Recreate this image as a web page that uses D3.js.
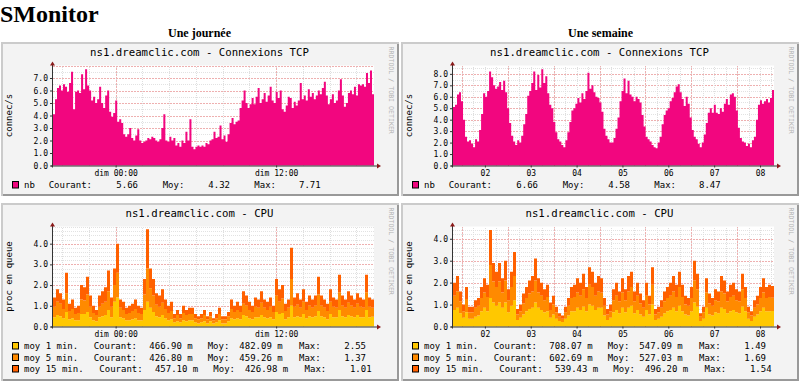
<!DOCTYPE html>
<html><head><meta charset="utf-8">
<script src="https://cdn.jsdelivr.net/npm/d3@7"></script>
<style>
body{margin:0;background:#fff;}
svg{display:block;}
</style></head><body>
<svg id="c" width="800" height="382"></svg>
<script>
// ---------------- DATA ----------------
const tcpDay = [
4.1,5.3,6.2,6.4,6.0,6.5,6.3,5.9,6.6,7.5,
4.5,5.9,6.0,5.8,7.3,6.1,7.7,6.4,6.0,5.2,
5.5,5.0,5.3,6.3,5.0,4.6,5.6,6.0,4.3,3.9,
4.2,5.2,3.5,3.7,3.4,2.5,2.3,2.5,3.0,2.2,
2.0,2.4,2.9,2.0,1.8,1.9,2.0,2.2,2.1,2.3,
2.2,2.0,1.9,2.1,3.0,4.1,2.0,1.9,2.3,2.0,
2.2,1.6,1.8,1.5,2.0,1.8,2.7,2.0,3.7,1.5,
1.3,1.5,1.6,1.5,1.6,1.5,1.8,1.7,2.0,2.1,
2.7,2.2,2.3,3.2,2.1,2.4,1.9,2.5,3.4,3.8,
3.3,3.5,3.6,4.6,5.2,6.0,5.0,4.6,4.9,5.4,
4.9,5.5,6.2,5.0,5.3,5.8,5.1,5.6,6.3,5.2,
5.0,5.9,5.4,6.0,4.5,4.3,4.8,5.5,5.4,4.6,
5.1,4.8,5.2,6.6,5.3,5.6,5.2,6.1,5.5,5.8,
5.3,5.6,6.0,5.7,6.2,6.7,5.6,4.9,5.3,5.7,
5.0,5.2,6.0,6.9,5.6,4.7,5.0,5.8,6.0,5.7,
6.3,5.6,6.5,6.4,6.5,6.3,7.4,6.6,7.6,5.7];

const tcpWeek = [
5.1,5.3,6.2,6.4,5.6,4.0,2.5,2.1,2.2,1.9,
1.6,2.3,2.1,3.1,4.5,6.3,6.0,6.5,8.2,7.7,
7.0,6.7,6.9,7.3,6.6,7.4,6.4,5.0,3.7,2.6,
2.1,1.8,2.2,2.0,2.6,3.6,4.5,6.1,6.5,7.2,
8.2,6.6,7.9,6.8,8.4,7.2,7.8,6.3,5.3,5.0,
3.8,2.9,2.3,2.1,1.8,1.6,2.2,2.9,3.8,4.8,
5.0,5.4,5.9,5.5,6.3,5.8,6.5,8.1,6.7,7.0,
6.4,6.0,5.9,5.5,4.7,3.2,2.6,2.3,2.0,2.0,
2.4,3.2,4.2,5.6,6.5,7.6,6.3,7.4,6.2,6.0,
5.6,6.0,5.8,5.5,4.4,3.4,2.5,2.3,2.1,1.8,
1.6,1.5,2.0,2.5,3.6,4.4,4.8,5.0,5.6,5.9,
6.4,6.9,7.1,6.4,5.8,5.2,6.0,5.4,4.2,3.1,
2.5,2.3,1.9,1.6,2.0,2.7,3.7,4.6,5.0,4.6,
5.3,4.6,4.5,5.0,4.7,5.4,5.8,5.3,6.2,6.3,
6.0,4.8,3.3,2.4,2.1,2.0,1.7,1.9,1.6,2.2,
2.5,4.0,5.3,5.7,5.4,5.6,5.8,5.5,5.9,6.6];

const cpuDay1 = [
.45,.55,.5,.4,.7,.35,.4,.3,.3,.6,
.6,.7,.45,.3,.25,.45,.5,.55,.8,.45,
1.2,1.4,.45,.4,.3,.3,.35,.4,.3,.3,
.8,1.2,.9,.7,.5,.45,.55,.4,.3,.35,
.2,.25,.2,.3,.25,.3,.3,.2,.15,.2,
.25,.15,.25,.15,.2,.3,.15,.15,.25,.4,
.35,.4,.35,.55,.5,.4,.35,.45,.45,.55,
.45,.4,.45,.35,.7,.6,.65,.35,.45,1.0,
.45,.5,.45,.6,.4,.5,.45,.5,.75,.5,
.45,.35,.6,.45,.45,.8,.5,.45,.55,.5,
.45,.55,.45,.45,.8,.45,.47];
const cpuDay5 = [
.5,.65,.6,.45,.9,.4,.45,.3,.35,.7,
.65,.85,.5,.35,.3,.5,.6,.65,.9,.5,
.8,1.2,.45,.4,.3,.35,.4,.45,.35,.3,
.75,1.6,.95,.8,.55,.5,.6,.45,.35,.4,
.2,.3,.2,.35,.3,.3,.3,.2,.2,.2,
.3,.2,.25,.15,.2,.3,.2,.2,.25,.45,
.35,.4,.35,.55,.5,.4,.35,.5,.45,.6,
.45,.4,.5,.35,.8,.6,.7,.4,.45,1.3,
.5,.55,.45,.6,.4,.5,.45,.5,.8,.5,
.45,.4,.6,.5,.45,.85,.5,.45,.6,.5,
.45,.55,.5,.45,.85,.5,.43];
const cpuDay15 = [
.45,.6,.5,.45,1.0,.35,.45,.3,.35,.7,
.65,.85,.55,.35,.25,.55,.6,.7,1.0,.45,
.8,1.4,.4,.4,.3,.35,.35,.45,.35,.3,
.75,1.9,.95,.8,.55,.55,.65,.45,.35,.45,
.2,.25,.2,.35,.25,.3,.3,.2,.15,.2,
.25,.15,.2,.1,.2,.3,.15,.15,.2,.45,
.3,.4,.3,.6,.5,.4,.3,.45,.4,.55,
.4,.4,.45,.3,.8,.6,.65,.35,.4,1.5,
.45,.55,.4,.6,.4,.5,.4,.5,.85,.5,
.4,.35,.6,.45,.4,.85,.5,.4,.55,.5,
.4,.5,.45,.4,.85,.45,.4];

const cpuWeek1 = [
.75,.85,.6,.4,.65,.35,.35,.45,.5,.7,
.85,.7,1.3,1.1,.95,1.1,.85,1.1,.65,.95,
1.2,.3,.4,.55,.7,.8,.85,1.1,.85,.75,
.65,.7,.4,.55,.35,.25,.2,.35,.5,.7,
.7,.85,.75,.9,.7,1.0,.95,.75,.85,.85,
.5,.3,.4,.65,.75,.6,.85,.65,.85,.95,
.6,.75,.55,.45,.75,.55,1.0,.3,.35,.45,
.6,.7,.75,.85,.7,.95,.7,.55,.5,.7,
1.1,.9,.25,.35,.85,.55,.5,.65,.6,.85,
.8,.6,.7,.75,.65,.6,.9,.7,.35,.25,
.45,.55,.7,.85,.7,.7,.71];
const cpuWeek5 = [
.65,.75,.55,.3,.6,.3,.3,.4,.45,.6,
.7,.65,1.5,.95,.85,.95,.7,1.0,.55,.85,
1.1,.25,.3,.5,.6,.7,.75,1.0,.7,.65,
.55,.65,.35,.45,.3,.2,.15,.3,.45,.6,
.65,.7,.65,.8,.6,.9,.85,.65,.75,.7,
.45,.25,.3,.55,.65,.55,.7,.55,.75,.85,
.55,.65,.5,.4,.65,.45,.9,.25,.3,.4,
.55,.6,.65,.75,.65,.85,.65,.45,.45,.6,
1.0,.8,.2,.3,.7,.5,.45,.55,.55,.75,
.7,.55,.65,.65,.55,.55,.8,.6,.3,.25,
.4,.45,.6,.7,.6,.65,.6];
const cpuWeek15 = [
.6,.7,.45,.3,.55,.25,.25,.35,.35,.5,
.65,.55,1.6,.85,.7,.85,.65,.9,.5,.7,
1.1,.25,.3,.45,.5,.6,.7,1.0,.65,.6,
.5,.55,.35,.4,.25,.15,.15,.25,.35,.5,
.55,.65,.6,.7,.5,.8,.7,.6,.7,.65,
.35,.25,.3,.5,.6,.45,.65,.5,.7,.7,
.45,.6,.45,.35,.6,.4,.8,.25,.25,.35,
.45,.5,.6,.7,.55,.7,.55,.4,.35,.5,
.9,.7,.15,.25,.65,.45,.35,.5,.45,.7,
.6,.45,.55,.6,.5,.45,.7,.5,.25,.2,
.35,.4,.5,.65,.5,.55,.54];

const dayTickLabels = ["dim 00:00", "dim 12:00"];
const weekTickLabels = ["02", "03", "04", "05", "06", "07", "08"];
const tcpDayYTicks = [0, 1, 2, 3, 4, 5, 6, 7];
const tcpWeekYTicks = [0, 1, 2, 3, 4, 5, 6, 7, 8];
const cpuYTicks = [0, 1, 2, 3, 4];

const tcpLegendDay = ["nb", "5.66", "4.32", "7.71"];
const tcpLegendWeek = ["nb", "6.66", "4.58", "8.47"];
const cpuLegendLabels = ["moy 1 min.", "moy 5 min.", "moy 15 min."];
const cpuLegendDay = [["466.90 m", "482.09 m", "2.55"], ["426.80 m", "459.26 m", "1.37"], ["457.10 m", "426.98 m", "1.01"]];
const cpuLegendWeek = [["708.07 m", "547.09 m", "1.49"], ["602.69 m", "527.03 m", "1.69"], ["539.43 m", "496.20 m", "1.54"]];

// ---------------- DRAWING ----------------
const svg = d3.select("#c");
const MONO = "'DejaVu Sans Mono', monospace";
const SERIF = "'Liberation Serif', 'Times New Roman', serif";
const TCP_COLOR = "#f2067f";
const CPU_COLORS = ["#ffc800", "#ff8a00", "#ff6000"];

const now = new Date(2009, 1, 8, 19, 19);
const dayStart = new Date(2009, 1, 7, 19, 19);
const weekStart = new Date(2009, 1, 1, 19, 19);
const dayTicks = [new Date(2009, 1, 8, 0, 0), new Date(2009, 1, 8, 12, 0)];
const weekTicks = weekTickLabels.map(s => new Date(2009, 1, +s, 12, 0));

svg.append("text").attr("x", 0).attr("y", 21.6).attr("font-family", SERIF)
  .attr("font-weight", "bold").attr("font-size", 24).text("SMonitor");
svg.append("text").attr("x", 199.5).attr("y", 36.5).attr("text-anchor", "middle")
  .attr("font-family", SERIF).attr("font-weight", "bold").attr("font-size", 12).text("Une journée");
svg.append("text").attr("x", 600.5).attr("y", 36.5).attr("text-anchor", "middle")
  .attr("font-family", SERIF).attr("font-weight", "bold").attr("font-size", 12).text("Une semaine");

function panel(c) {
  const g = svg.append("g");
  const bx = c.bx, by = c.by, bw = 398, bh = c.bh;
  g.append("rect").attr("x", bx).attr("y", by).attr("width", bw).attr("height", bh).attr("fill", "#f3f3f3");
  g.append("path").attr("d", `M${bx + 1},${by + bh}V${by + 1}H${bx + bw}`)
    .attr("stroke", "#cbcbcb").attr("stroke-width", 2).attr("fill", "none");
  g.append("path").attr("d", `M${bx + bw - 1},${by + 2}V${by + bh - 1}H${bx + 2}`)
    .attr("stroke", "#999").attr("stroke-width", 2).attr("fill", "none");

  const x0 = bx + 52, W = 321, y0 = c.y0, H = 100;
  const x = d3.scaleTime().domain([c.start, now]).range([x0, x0 + W]);
  const y = d3.scaleLinear().domain([0, c.ymax]).range([y0, y0 - H]);

  g.append("rect").attr("x", x0).attr("y", y0 - H).attr("width", W).attr("height", H).attr("fill", "#fff");

  // grid
  const grid = g.append("g").attr("shape-rendering", "crispEdges");
  const nMinor = Math.floor(c.ymax / c.minor + 1e-6);
  for (let k = 1; k <= nMinor; k++) {
    const v = k * c.minor;
    const isMajor = Math.abs(v - Math.round(v)) < 1e-6;
    grid.append("line").attr("x1", x0).attr("x2", x0 + W).attr("y1", Math.round(y(v)) + 0.5).attr("y2", Math.round(y(v)) + 0.5)
      .attr("stroke", isMajor ? "#eeb0b0" : "#e2e2e2").attr("stroke-dasharray", isMajor ? "2,1" : "1,1");
  }
  c.minorX.range(c.start, now).forEach(t => {
    const xx = Math.round(x(t)) + 0.5;
    grid.append("line").attr("x1", xx).attr("x2", xx).attr("y1", y0).attr("y2", y0 - H)
      .attr("stroke", "#dedede").attr("stroke-dasharray", "1,1");
  });
  c.majorX.range(c.start, now).forEach(t => {
    const xx = Math.round(x(t)) + 0.5;
    grid.append("line").attr("x1", xx).attr("x2", xx).attr("y1", y0).attr("y2", y0 - H)
      .attr("stroke", "#eeb0b0").attr("stroke-dasharray", "2,1");
  });

  // data
  const area = d3.area().curve(d3.curveStepAfter).x(d => x(d.t));
  if (c.series.length === 1) {
    const vals = c.series[0];
    const n = vals.length, dt = (now - c.start) / n;
    const pts = vals.map((v, i) => ({ t: new Date(+c.start + i * dt), lo: 0, hi: v }));
    pts.push({ t: now, lo: 0, hi: vals[n - 1] });
    g.append("path").datum(pts).attr("fill", c.colors[0])
      .attr("d", area.y0(d => y(d.lo)).y1(d => y(d.hi)));
  } else {
    const keys = ["a", "b", "c"];
    const n = c.series[0].length, dt = (now - c.start) / n;
    const rows = d3.range(n).map(i => ({ a: c.series[0][i], b: c.series[1][i], c: c.series[2][i] }));
    rows.push(rows[n - 1]);
    const layers = d3.stack().keys(keys)(rows);
    layers.forEach((L, li) => {
      const pts = L.map((d, i) => ({ t: new Date(+c.start + i * dt), lo: d[0], hi: d[1] }));
      g.append("path").datum(pts).attr("fill", c.colors[li])
        .attr("d", area.y0(d => y(d.lo)).y1(d => y(d.hi)));
    });
  }

  // axes
  const ya = g.append("g").attr("transform", `translate(${x0},0)`)
    .call(d3.axisLeft(y).tickValues(c.yTicks).tickFormat(d3.format(".1f")).tickSize(3).tickPadding(2));
  const xa = g.append("g").attr("transform", `translate(0,${y0})`)
    .call(d3.axisBottom(x).tickValues(c.xTicks).tickFormat((d, i) => c.xLabels[i]).tickSize(2).tickPadding(3));
  [ya, xa].forEach(a => {
    a.select(".domain").remove();
    a.selectAll("line").attr("stroke", "#333");
    a.selectAll("text").attr("font-family", MONO).attr("font-size", 8).attr("fill", "#000");
  });
  g.append("line").attr("x1", x0 - 0.5).attr("x2", x0 - 0.5).attr("y1", y0 + 2).attr("y2", y0 - H - 1).attr("stroke", "#333");
  g.append("line").attr("x1", x0 - 2).attr("x2", x0 + W + 3).attr("y1", y0 + 0.5).attr("y2", y0 + 0.5).attr("stroke", "#333");
  g.append("path").attr("d", `M${x0 - 3},${y0 - H}L${x0 - 0.5},${y0 - H - 4}L${x0 + 2},${y0 - H}Z`).attr("fill", "#8b1a1a");
  g.append("path").attr("d", `M${x0 + W + 3},${y0 - 2}L${x0 + W + 7},${y0 + 0.5}L${x0 + W + 3},${y0 + 3}Z`).attr("fill", "#8b1a1a");

  // titles
  g.append("text").attr("x", bx + 198.5).attr("y", by + 14.3).attr("text-anchor", "middle")
    .attr("font-family", MONO).attr("font-size", 10.7).text(c.title);
  g.append("text").attr("transform", `translate(${bx + 10.5},${y0 - H / 2}) rotate(-90)`)
    .attr("text-anchor", "middle").attr("font-family", MONO).attr("font-size", 9).text(c.ylabel);
  g.append("text").attr("transform", `translate(${bx + 388},${by + 4.5}) rotate(90)`)
    .attr("font-family", MONO).attr("font-size", 6.6).attr("fill", "#b4b4b4").text("RRDTOOL / TOBI OETIKER");

  // legend
  const lt = (xx, yy, s, anchor) => g.append("text").attr("x", xx).attr("y", yy)
    .attr("text-anchor", anchor || "start").attr("font-family", MONO).attr("font-size", 9).text(s);
  if (c.series.length === 1) {
    const cy = c.legendY[0], L = c.legend;
    g.append("rect").attr("x", bx + 11.5).attr("y", cy - 3.5).attr("width", 6).attr("height", 6.5)
      .attr("fill", c.colors[0]).attr("stroke", "#000");
    lt(bx + 23, cy + 3.2, L[0]);
    lt(bx + 47.7, cy + 3.2, "Courant:");
    lt(bx + 137, cy + 3.2, L[1], "end");
    lt(bx + 161.7, cy + 3.2, "Moy:");
    lt(bx + 229, cy + 3.2, L[2], "end");
    lt(bx + 253.3, cy + 3.2, "Max:");
    lt(bx + 319.7, cy + 3.2, L[3], "end");
  } else {
    cpuLegendLabels.forEach((lab, r) => {
      const cy = c.legendY[r], L = c.legend[r];
      const sh = (lab.length - 10) * 5.6;
      g.append("rect").attr("x", bx + 11.5).attr("y", cy - 3.5).attr("width", 6).attr("height", 6.5)
        .attr("fill", c.colors[r]).attr("stroke", "#000");
      lt(bx + 23, cy + 3.2, lab);
      lt(bx + 92.7 + sh, cy + 3.2, "Courant:");
      lt(bx + 148.3 + sh, cy + 3.2, L[0]);
      lt(bx + 206.7 + sh, cy + 3.2, "Moy:");
      lt(bx + 238.3 + sh, cy + 3.2, L[1]);
      lt(bx + 298 + sh, cy + 3.2, "Max:");
      lt(bx + 365 + sh, cy + 3.2, L[2], "end");
    });
  }
}

panel({ bx: 1, by: 42, bh: 154, y0: 165.5, ymax: 8, minor: 0.5, start: dayStart,
  minorX: d3.timeHour.every(2), majorX: d3.timeHour.every(12),
  xTicks: dayTicks, xLabels: dayTickLabels, yTicks: tcpDayYTicks,
  series: [tcpDay], colors: [TCP_COLOR], title: "ns1.dreamclic.com - Connexions TCP",
  ylabel: "connec/s", legend: tcpLegendDay, legendY: [185] });
panel({ bx: 401, by: 42, bh: 154, y0: 165.5, ymax: 8.73, minor: 0.5, start: weekStart,
  minorX: d3.timeHour.every(6), majorX: d3.timeDay,
  xTicks: weekTicks, xLabels: weekTickLabels, yTicks: tcpWeekYTicks,
  series: [tcpWeek], colors: [TCP_COLOR], title: "ns1.dreamclic.com - Connexions TCP",
  ylabel: "connec/s", legend: tcpLegendWeek, legendY: [185] });
panel({ bx: 1, by: 203, bh: 178, y0: 326.5, ymax: 4.83, minor: 0.2, start: dayStart,
  minorX: d3.timeHour.every(2), majorX: d3.timeHour.every(12),
  xTicks: dayTicks, xLabels: dayTickLabels, yTicks: cpuYTicks,
  series: [cpuDay1, cpuDay5, cpuDay15], colors: CPU_COLORS, title: "ns1.dreamclic.com - CPU",
  ylabel: "proc en queue", legend: cpuLegendDay, legendY: [346, 357.5, 369] });
panel({ bx: 401, by: 203, bh: 178, y0: 326.5, ymax: 4.56, minor: 0.2, start: weekStart,
  minorX: d3.timeHour.every(6), majorX: d3.timeDay,
  xTicks: weekTicks, xLabels: weekTickLabels, yTicks: cpuYTicks,
  series: [cpuWeek1, cpuWeek5, cpuWeek15], colors: CPU_COLORS, title: "ns1.dreamclic.com - CPU",
  ylabel: "proc en queue", legend: cpuLegendWeek, legendY: [346, 357.5, 369] });
</script>
</body></html>
